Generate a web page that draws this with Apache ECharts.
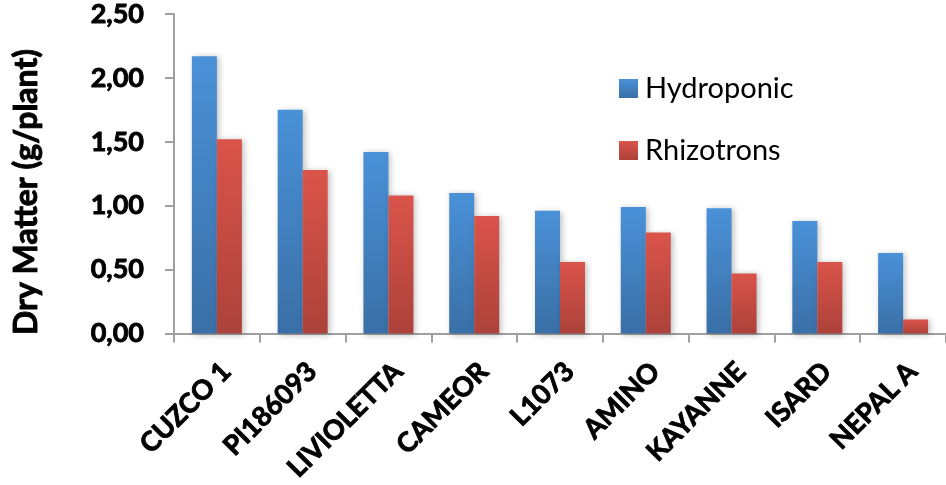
<!DOCTYPE html>
<html><head><meta charset="utf-8">
<script src="https://cdn.jsdelivr.net/npm/echarts@6/dist/echarts.min.js"></script>
<style>html,body{margin:0;padding:0;background:#fff}#c{width:946px;height:485px}</style>
</head><body><div id="c"></div>
<script>
const categories = ['CUZCO 1','PI186093','LIVIOLETTA','CAMEOR','L1073','AMINO','KAYANNE','ISARD','NEPAL A'];
const hydroponic = [2.17, 1.75, 1.42, 1.10, 0.96, 0.99, 0.98, 0.88, 0.63];
const rhizotrons = [1.52, 1.28, 1.08, 0.92, 0.56, 0.79, 0.47, 0.56, 0.11];
const yTicks = [0, 0.5, 1, 1.5, 2, 2.5];
const seriesNames = ['Hydroponic', 'Rhizotrons'];
const yTitle = 'Dry Matter (g/plant)';

const grad = (a, b) => new echarts.graphic.LinearGradient(0, 0, 0, 1, [{offset: 0, color: a}, {offset: 1, color: b}]);
const chart = echarts.init(document.getElementById('c'), null, {renderer: 'canvas'});
chart.setOption({
  animation: false,
  grid: {left: 174, right: 0, top: 14, bottom: 151, containLabel: false},
  legend: {
    orient: 'vertical', left: 614, top: 68,
    itemWidth: 19, itemHeight: 19, itemGap: 31,
    icon: 'rect',
    textStyle: {fontFamily: 'Lato', fontSize: 29, color: '#000', lineHeight: 31, padding: [0, 0, 0, 2]},
    data: seriesNames
  },
  xAxis: {
    type: 'category', data: categories,
    axisLine: {lineStyle: {color: '#a0a0a0', width: 2}},
    axisTick: {show: true, length: 9, lineStyle: {color: '#a0a0a0', width: 2}},
    axisLabel: {rotate: 45, margin: 24, verticalAlign: 'top', fontFamily: 'Lato', fontWeight: 'bold', fontSize: 27, color: '#000',
      textBorderColor: '#000', textBorderWidth: 0.9, interval: 0}
  },
  yAxis: {
    type: 'value', min: 0, max: 2.5, interval: 0.5,
    splitLine: {show: false},
    axisLine: {show: true, lineStyle: {color: '#a0a0a0', width: 2}},
    axisTick: {show: true, length: 9, lineStyle: {color: '#a0a0a0', width: 2}},
    axisLabel: {margin: 30, fontFamily: 'Lato', fontWeight: 'bold', fontSize: 27, color: '#000',
      textBorderColor: '#000', textBorderWidth: 0.9,
      formatter: v => yTicks.includes(v) ? v.toFixed(2).replace('.', ',') : ''}
  },
  graphic: [{
    type: 'text', x: 27, y: 192, rotation: Math.PI / 2,
    style: {text: yTitle, fontFamily: 'Lato', fontWeight: 'bold', fontSize: 32, fill: '#000', stroke: '#000', lineWidth: 0.9,
      textAlign: 'center', textVerticalAlign: 'middle'}
  }],
  series: [
    {name: seriesNames[0], type: 'bar', data: hydroponic, barWidth: 25, barGap: '0%',
     itemStyle: {color: grad('#4a91d8', '#3a6fa6'), shadowColor: 'rgba(0,0,0,0.25)', shadowBlur: 6, shadowOffsetX: 2, shadowOffsetY: 1}},
    {name: seriesNames[1], type: 'bar', data: rhizotrons, barWidth: 25, barGap: '0%',
     itemStyle: {color: grad('#da544a', '#ac423a'), shadowColor: 'rgba(0,0,0,0.25)', shadowBlur: 6, shadowOffsetX: 2, shadowOffsetY: 1}}
  ]
});
</script></body></html>
